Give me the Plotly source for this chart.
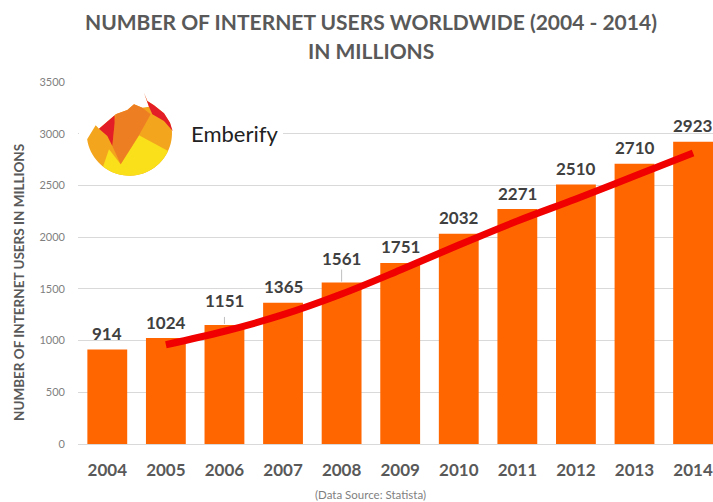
import math
import plotly.graph_objects as go

# Internet users worldwide, millions
years = ["2004", "2005", "2006", "2007", "2008", "2009",
         "2010", "2011", "2012", "2013", "2014"]
users = [914, 1024, 1151, 1365, 1561, 1751, 2032, 2271, 2510, 2710, 2923]

# Smoothed trend line, 2005 onwards
trend_years = years[1:]
trend_values = [960, 1090, 1250, 1450, 1682, 1924, 2156, 2369, 2591, 2813]

y_ticks = [0, 500, 1000, 1500, 2000, 2500, 3000, 3500]

W, H = 713, 502
ML, MR, MT, MB = 78, 0, 82, 58
PW, PH = W - ML - MR, H - MT - MB

BAR = "#FF6600"
LINE = "#F00000"
DARK = "#404040"
GREY = "#595959"
FONT = "Lato"


def xp(px):
    return (px - ML) / PW


def yp(py):
    return (H - MB - py) / PH


fig = go.Figure()

fig.add_trace(go.Bar(
    x=years, y=users, marker=dict(color=BAR, line=dict(width=0)),
    width=0.68, hoverinfo="x+y",
))

fig.add_trace(go.Scatter(
    x=trend_years, y=trend_values, mode="lines",
    line=dict(color=LINE, width=7, shape="spline", smoothing=1.0),
    hoverinfo="skip",
))

annotations = []
shapes = []

# Value labels above the bars; two are lifted with a short leader
raised = {"2006": 8, "2008": 13}
for i, (yr, v) in enumerate(zip(years, users)):
    lift = 24 if yr in raised else 16
    annotations.append(dict(
        x=i, y=v, xref="x", yref="y", text=f"<b>{v}</b>",
        showarrow=False, yanchor="middle", yshift=lift,
        font=dict(family=FONT, size=17, color=DARK),
    ))
    if yr in raised:
        shapes.append(dict(
            type="line", xref="x", yref="y", ysizemode="pixel",
            yanchor=v, x0=i, x1=i, y0=1, y1=raised[yr],
            line=dict(color="#BFBFBF", width=1), layer="above",
        ))

# Title
for text, py in [("NUMBER OF INTERNET USERS WORLDWIDE (2004 - 2014)", 22),
                 ("IN MILLIONS", 50)]:
    annotations.append(dict(
        x=xp(371), y=yp(py), xref="paper", yref="paper",
        text=f"<b>{text}</b>", showarrow=False,
        xanchor="center", yanchor="middle",
        font=dict(family=FONT, size=21, color=GREY),
    ))

# Vertical axis title
annotations.append(dict(
    x=xp(19), y=yp(283), xref="paper", yref="paper",
    text="<b>NUMBER OF INTERNET USERS IN MILLIONS</b>", textangle=-90,
    showarrow=False, xanchor="center", yanchor="middle",
    font=dict(family=FONT, size=13.5, color=GREY),
))

# Source note
annotations.append(dict(
    x=xp(370), y=yp(495), xref="paper", yref="paper",
    text="(Data Source: Statista)", showarrow=False,
    xanchor="center", yanchor="middle",
    font=dict(family=FONT, size=11.5, color="#7F7F7F"),
))

# Brand block: white backing, flame emblem and wordmark
shapes.append(dict(
    type="rect", xref="paper", yref="paper",
    x0=xp(ML + 1), x1=xp(283), y0=yp(172), y1=yp(96),
    fillcolor="white", line=dict(width=0), layer="above",
))

# emblem is laid out on a 300x300 grid placed at (80, 85), 1/3 px per unit
CX, CY, R = 148, 144, 128


def logo_pt(zx, zy):
    return xp(80 + zx / 3), yp(85 + zy / 3)


def arc(a0, a1, n=40):
    pts = []
    for k in range(n + 1):
        a = math.radians(a0 + (a1 - a0) * k / n)
        pts.append((CX + R * math.cos(a), CY + R * math.sin(a)))
    return pts


def poly(points, color):
    d = ""
    for k, (zx, zy) in enumerate(points):
        x, y = logo_pt(zx, zy)
        d += ("M" if k == 0 else "L") + f"{x:.5f},{y:.5f} "
    d += "Z"
    return dict(type="path", xref="paper", yref="paper", path=d,
                fillcolor=color, line=dict(width=0), layer="above")


body = arc(171.5, -3)
body += [(270, 113), (252, 85), (222, 61), (202, 48), (192, 23), (207, 65),
         (187, 68), (162, 58), (142, 75), (107, 88), (104, 91), (57, 131),
         (47, 121)]
shapes.append(poly(body, "#F3A51E"))

yellow = [(87, 193), (122, 238), (177, 151), (274, 203)] + arc(25, 128)
shapes.append(poly(yellow, "#F9E01A"))

shapes.append(poly([(107, 88), (142, 75), (162, 58), (187, 68), (212, 88),
                    (177, 151), (122, 238), (97, 183), (104, 113)], "#EE7E22"))

shapes.append(poly([(57, 131), (104, 91), (104, 113), (97, 183), (82, 153)],
                   "#E41E26"))

shapes.append(poly([(192, 23), (202, 48), (222, 61), (252, 85), (270, 113),
                    (278, 138), (252, 108), (217, 88), (207, 65)], "#E41E26"))

annotations.append(dict(
    x=xp(189), y=yp(133), xref="paper", yref="paper", text="Emberify",
    showarrow=False, xanchor="left", yanchor="middle",
    font=dict(family=FONT, size=22, color="#222222"),
))

fig.update_layout(
    width=W, height=H,
    margin=dict(l=ML, r=MR, t=MT, b=MB, pad=0),
    paper_bgcolor="white", plot_bgcolor="white",
    showlegend=False,
    annotations=annotations, shapes=shapes,
    xaxis=dict(
        type="category", range=[-0.5, 10.34], showgrid=False,
        showline=False, ticks="", zeroline=False,
        tickfont=dict(family=FONT, size=17, color=GREY, weight="bold"),
        ticklabelstandoff=14,
    ),
    yaxis=dict(
        range=[0, 3500], tickvals=y_ticks, showgrid=True,
        gridcolor="#D9D9D9", gridwidth=1, zeroline=True,
        zerolinecolor="#D9D9D9", zerolinewidth=1, showline=False,
        ticks="", tickfont=dict(family=FONT, size=11, color="#7F7F7F"),
        ticklabelstandoff=12,
    ),
)

fig.write_html("out.html")
